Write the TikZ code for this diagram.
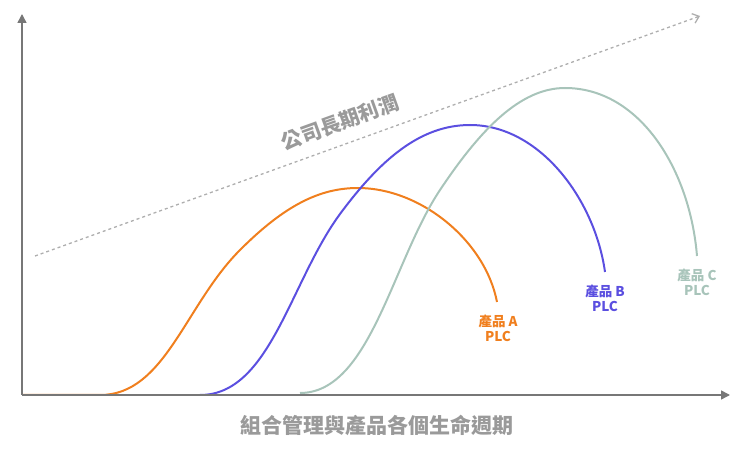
\documentclass[tikz,border=0pt]{standalone}
\usepackage{fontspec}
\newfontfamily\cjk{Noto Sans CJK TC}
\usetikzlibrary{arrows.meta}
\definecolor{ax}{HTML}{777777}
\definecolor{tg}{HTML}{9A9A9A}
\definecolor{co}{HTML}{F07F1E}
\definecolor{cb}{HTML}{5B4FE0}
\definecolor{cg}{HTML}{A8C4BA}
\tikzset{curve/.style={line width=2pt},lab/.style={font=\cjk\bfseries\fontsize{13.5}{15}\selectfont,align=center,inner sep=1pt}}
\begin{document}
\begin{tikzpicture}[x=1pt,y=-1pt]
\useasboundingbox (0,0) rectangle (740,454);
\coordinate (o) at (22,395);
\coordinate (yt) at (22,14);
\coordinate (xt) at (730,395);
\coordinate (ds) at (35,256);
\coordinate (de) at (700,16);
\draw[tg!80,line width=1.3pt,dash pattern=on 3pt off 3pt,-{Straight Barb[length=6pt,width=10pt]}] (ds) -- (de);
\node[font=\cjk\bfseries\fontsize{20.5}{22}\selectfont,text=tg,rotate=19.8,inner sep=0pt] (t1) at (340,122) {公司長期利潤};
\draw[co,curve] (22,395) -- (100,395) .. controls (165,395) and (185,305) .. (240,250) .. controls (285,205) and (320,188) .. (358,188) .. controls (420,188) and (485,240) .. (497,302);
\draw[cb,curve] (200,395) .. controls (270,395) and (290,282) .. (340,214) .. controls (380,160) and (420,125) .. (470,125) .. controls (540,125) and (595,200) .. (605,272);
\draw[cg,curve] (300,393) .. controls (370,393) and (392,262) .. (440,190) .. controls (480,130) and (520,88) .. (565,88) .. controls (640,88) and (690,170) .. (697,256);
\draw[ax,line width=1.5pt,-{Triangle[length=9pt,width=9pt]}] (o) -- (yt);
\draw[ax,line width=1.5pt,-{Triangle[length=9pt,width=9pt]}] (o) -- (xt);
\node[lab,text=co] (la) at (498,328) {產品 A\\PLC};
\node[lab,text=cb] (lb) at (605,298) {產品 B\\PLC};
\node[lab,text=cg] (lc) at (697,282) {產品 C\\PLC};
\node[font=\cjk\bfseries\fontsize{21}{23}\selectfont,text=tg] (t2) at (377,425) {組合管理與產品各個生命週期};
\end{tikzpicture}
\end{document}
